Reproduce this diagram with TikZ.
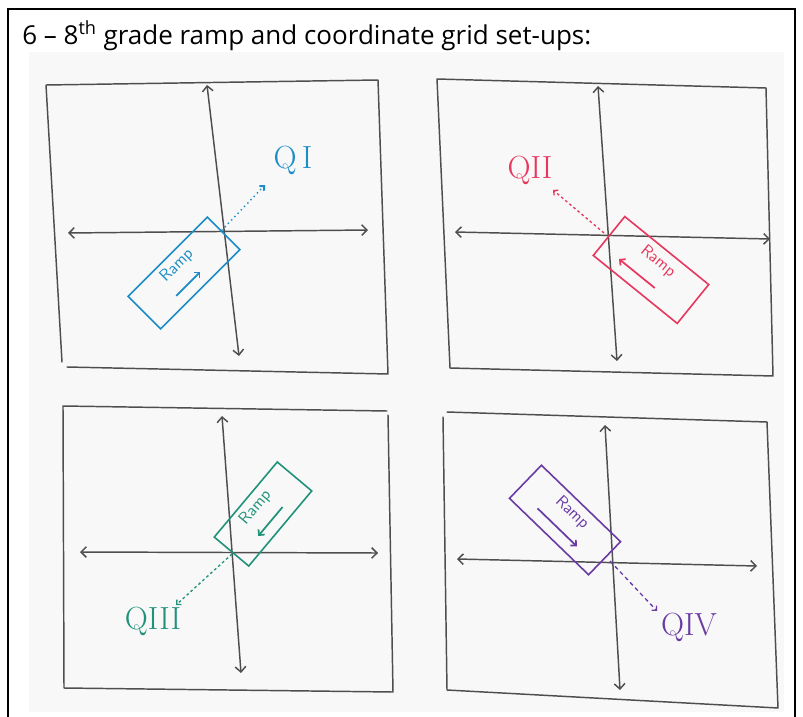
\documentclass[tikz,border=0pt]{standalone}
\usepackage{fontspec}
\newfontfamily\titlefont{Open Sans}
\usetikzlibrary{arrows.meta,calc}
\definecolor{pencil}{HTML}{4E4E4E}
\definecolor{photo}{HTML}{F8F8F8}
\definecolor{qone}{HTML}{1B8CC6}
\definecolor{qtwo}{HTML}{E8375C}
\definecolor{qthree}{HTML}{22917A}
\definecolor{qfour}{HTML}{6A3CA3}
\begin{document}
\begin{tikzpicture}[x=0.75pt,y=-0.75pt,pen/.style={draw=pencil,line width=1.1pt,line join=round,line cap=round},axis/.style={pen,{Straight Barb[length=4pt,width=8pt]}-{Straight Barb[length=4pt,width=8pt]}},ramp/.style n args={4}{draw=#1,line width=1.2pt,rectangle,rotate=#2,minimum width=#3*0.75pt,minimum height=#4*0.75pt,inner sep=0pt},ramptext/.style n args={2}{text=#1,rotate=#2,font=\sffamily\fontsize{12.5}{12.5}\selectfont,inner sep=0pt},quad/.style={text=#1,font=\fontsize{24}{24}\selectfont,inner sep=1pt},lead/.style={draw=#1,line width=1pt,dash pattern=on 2pt off 2pt,-{Straight Barb[length=2.5pt,width=5pt]}}]
\useasboundingbox (0,0) rectangle (803,717);
% page frame and photo
\draw[line width=1pt] (8,717) -- (8,9) -- (795,9) -- (795,717);
\fill[photo] (29,52) rectangle (784,712);
\node[anchor=base west,font=\titlefont\fontsize{19.5}{22}\selectfont,inner sep=0pt] (title) at (22,45) {6 – 8\textsuperscript{th} grade ramp and coordinate grid set-ups:};
% hand drawn squares
\draw[pen] (46,85) -- (378,80) -- (388,374) -- (67,367) (62,362) -- (46,85);
\draw[pen] (437,79) -- (766,88) -- (773,376) -- (450,368) -- cycle;
\draw[pen] (64,688) -- (63,406) -- (387,411) (388,415) -- (393,692) -- (64,688);
\draw[pen] (447,412) -- (767,422) -- (778,708) -- (447,690) (443,417) -- (447,690);
% axes
\foreach \lx/\ly/\rx/\ry/\tx/\ty/\bx/\by in %
{68/233/368/230/207/85/239/356, 455/232/770/239/598/86/617/361, 80/552/378/553/222/416/241/673, 457/559/757/566/605/425/620/690} {
   \draw[axis] (\lx,\ly) -- (\rx,\ry);
   \draw[axis] (\tx,\ty) -- (\bx,\by);
}
\coordinate (o1) at (222,230);
\coordinate (o2) at (604,233);
\coordinate (o3) at (232,554);
\coordinate (o4) at (610,561);
% ramps
\foreach \n/\col/\cx/\cy/\ang/\len/\wid/\fa/\fb in %
{1/qone/184/273/45/112/46/0.31/0.61, 2/qtwo/651/270/-39/108/50/0.63/0.21, 3/qthree/263/514/50/98/45/0.68/0.30, 4/qfour/565/520/-44/110/46/0.25/0.74} {
   \node[ramp={\col}{\ang}{\len}{\wid}] (r\n) at (\cx,\cy) {};
   \node[ramptext={\col}{\ang}] (rt\n) at ($(r\n.center)!0.42!(r\n.north)$) {Ramp};
   \coordinate (a\n) at ($(r\n.west)!0.45!(r\n.south west)$);
   \coordinate (b\n) at ($(r\n.east)!0.45!(r\n.south east)$);
   \draw[draw=\col,line width=1.3pt,-{Straight Barb[length=3pt,width=6pt]}] ($(a\n)!\fa!(b\n)$) -- ($(a\n)!\fb!(b\n)$);
}
% quadrant labels
\node[quad=qone] (q1) at (293,160) {Q\,I};
\node[quad=qtwo] (q2) at (530,170) {QII};
\node[quad=qthree] (q3) at (153,621) {QIII};
\node[quad=qfour] (q4) at (689,627) {QIV};
\coordinate (t1) at (265,185);
\coordinate (t2) at (553,190);
\coordinate (t3) at (176,605);
\coordinate (t4) at (657,611);
\draw[lead=qone,dash pattern=on 0pt off 3.5pt,line width=1.5pt,line cap=round] (o1) -- (t1);
\draw[lead=qtwo] (o2) -- (t2);
\draw[lead=qthree] (o3) -- (t3);
\draw[lead=qfour,dash pattern=on 3pt off 2.5pt] (o4) -- (t4);
\end{tikzpicture}
\end{document}
